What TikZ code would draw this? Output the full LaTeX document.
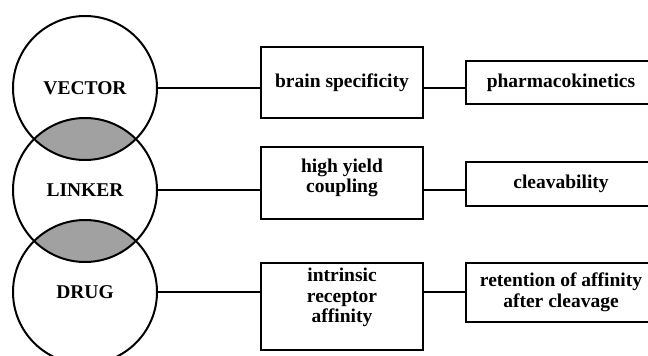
\documentclass[tikz,border=0pt]{standalone}
\usepackage{fontspec}
\setmainfont{Liberation Serif}
\begin{document}
\begin{tikzpicture}[x=1pt,y=-1pt,
  txtfont/.style={font=\bfseries\fontsize{19.5}{20.5}\selectfont},
  circ/.style={circle,draw,line width=2pt,minimum size=144pt,inner sep=0pt,txtfont},
  boxnode/.style={rectangle,draw,line width=2.6pt,inner sep=0pt,align=center,txtfont},
  txt/.style={inner sep=0pt,align=center,txtfont},
  conn/.style={line width=2pt}]
\useasboundingbox (0,0) rectangle (648,356);
\clip (0,0) rectangle (648,356);
\coordinate (c1) at (85,88);
\coordinate (c2) at (85,190);
\coordinate (c3) at (85,292);
% lenses
\begin{scope}
  \clip (c1) circle (72);
  \fill[black!37] (c2) circle (72);
\end{scope}
\begin{scope}
  \clip (c2) circle (72);
  \fill[black!37] (c3) circle (72);
\end{scope}
\node[circ] (vector) at (c1) {VECTOR};
\node[circ] (linker) at (c2) {LINKER};
\node[circ] (drug) at (c3) {DRUG};
% first column
\node[boxnode,minimum width=162pt,minimum height=71pt] (b1) at (342,82.5) {brain specificity};
\node[boxnode,minimum width=162pt,minimum height=72pt] (b2) at (342,183) {};
\node[txt] (t2) at (342,178) {high yield\\coupling};
\node[boxnode,minimum width=162pt,minimum height=87pt] (b3) at (342,306.5) {};
\node[txt] (t3) at (342,297.5) {intrinsic\\receptor\\affinity};
% second column (right edges run past the picture's edge)
\node[boxnode,minimum width=190pt,minimum height=43pt] (a1) at (561,82.5) {pharmacokinetics};
\node[boxnode,minimum width=190pt,minimum height=44pt] (a2) at (561,184) {cleavability};
\node[boxnode,minimum width=190pt,minimum height=59pt] (a3) at (561,292.5) {retention of affinity\\after cleavage};
% connectors
\draw[conn] (vector.east) -- (vector.east -| b1.west);
\draw[conn] (linker.east) -- (linker.east -| b2.west);
\draw[conn] (drug.east) -- (drug.east -| b3.west);
\draw[conn] (vector.east -| b1.east) -- (vector.east -| a1.west);
\draw[conn] (linker.east -| b2.east) -- (linker.east -| a2.west);
\draw[conn] (drug.east -| b3.east) -- (drug.east -| a3.west);
\end{tikzpicture}
\end{document}
